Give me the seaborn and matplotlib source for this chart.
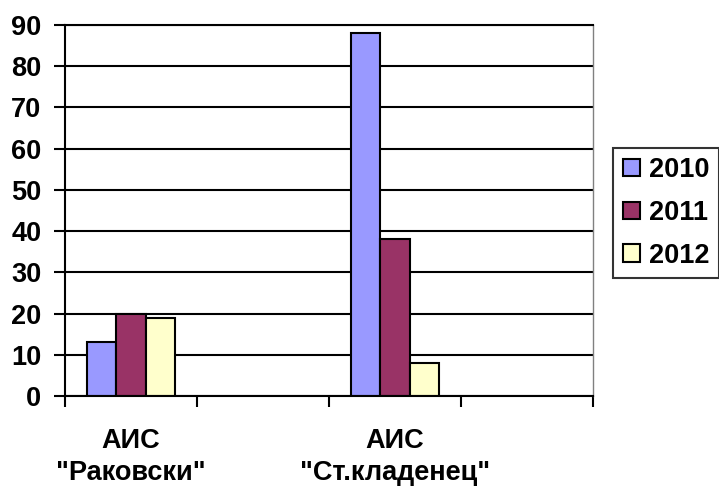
import pandas as pd
import seaborn as sns
import matplotlib.pyplot as plt

# Data
sites = ['АИС\n"Раковски"', 'АИС\n"Ст.кладенец"']
years = ['2010', '2011', '2012']
values_2010 = [13, 88]
values_2011 = [20, 38]
values_2012 = [19, 8]
colors = ['#9999FF', '#993366', '#FFFFCC']

# two empty category slots, as in the original chart
order = [sites[0], ' ', sites[1], '  ']

df = pd.DataFrame({
    'site': sites * 3,
    'year': [y for y in years for _ in sites],
    'value': values_2010 + values_2011 + values_2012,
})

sns.set_style('white')
plt.rcParams['font.family'] = ['Liberation Sans', 'DejaVu Sans']
plt.rcParams['font.weight'] = 'bold'
plt.rcParams['text.color'] = 'black'
plt.rcParams['xtick.color'] = 'black'
plt.rcParams['ytick.color'] = 'black'

fig = plt.figure(figsize=(7.19, 4.86), dpi=100)
ax = fig.add_axes([0.0904, 0.1852, 0.7344, 0.7634])

sns.barplot(data=df, x='site', y='value', hue='year', order=order,
            hue_order=years, palette=colors, width=2 / 3,
            edgecolor='black', linewidth=1.5, saturation=1, ax=ax)

ax.set_ylim(0, 90)
ax.set_xlim(-0.5, 3.5)
ax.set_yticks(range(0, 91, 10))
ax.yaxis.grid(True, color='black', linewidth=1.5)
ax.set_axisbelow(True)
ax.set_xlabel('')
ax.set_ylabel('')

# boundary ticks on the x axis, labels centred under the categories
ax.set_xticks([-0.5, 0.5, 1.5, 2.5, 3.5])
ax.set_xticklabels([])
ax.set_xticks([0, 2], minor=True)
ax.set_xticklabels(sites, minor=True, fontsize=19.5, fontweight='bold',
                   linespacing=1.3, color='black')
ax.tick_params(axis='x', which='major', direction='out', length=8,
               width=1.5, color='black', bottom=True)
ax.tick_params(axis='x', which='minor', length=0, pad=23)
ax.tick_params(axis='y', direction='out', length=8, width=1.5,
               color='black', left=True, labelsize=19.5, pad=9,
               labelcolor='black')
for lab in ax.get_yticklabels():
    lab.set_fontweight('bold')

for side in ['left', 'bottom', 'top']:
    ax.spines[side].set_color('black')
    ax.spines[side].set_linewidth(1.5)
ax.spines['right'].set_color('#808080')
ax.spines['right'].set_linewidth(1)

ax.get_legend().remove()
handles, labels = ax.get_legend_handles_labels()
leg = fig.legend(handles, labels, loc='center left',
                 bbox_to_anchor=(0.853, 0.562), frameon=True,
                 fancybox=False, edgecolor='black', fontsize=19.5,
                 handlelength=0.62, handleheight=0.62, handletextpad=0.35,
                 labelspacing=0.62, borderpad=0.35, borderaxespad=0)
leg.get_frame().set_linewidth(1.5)
for t in leg.get_texts():
    t.set_fontweight('bold')
    t.set_color('black')

fig.savefig('out.png', dpi=100)
